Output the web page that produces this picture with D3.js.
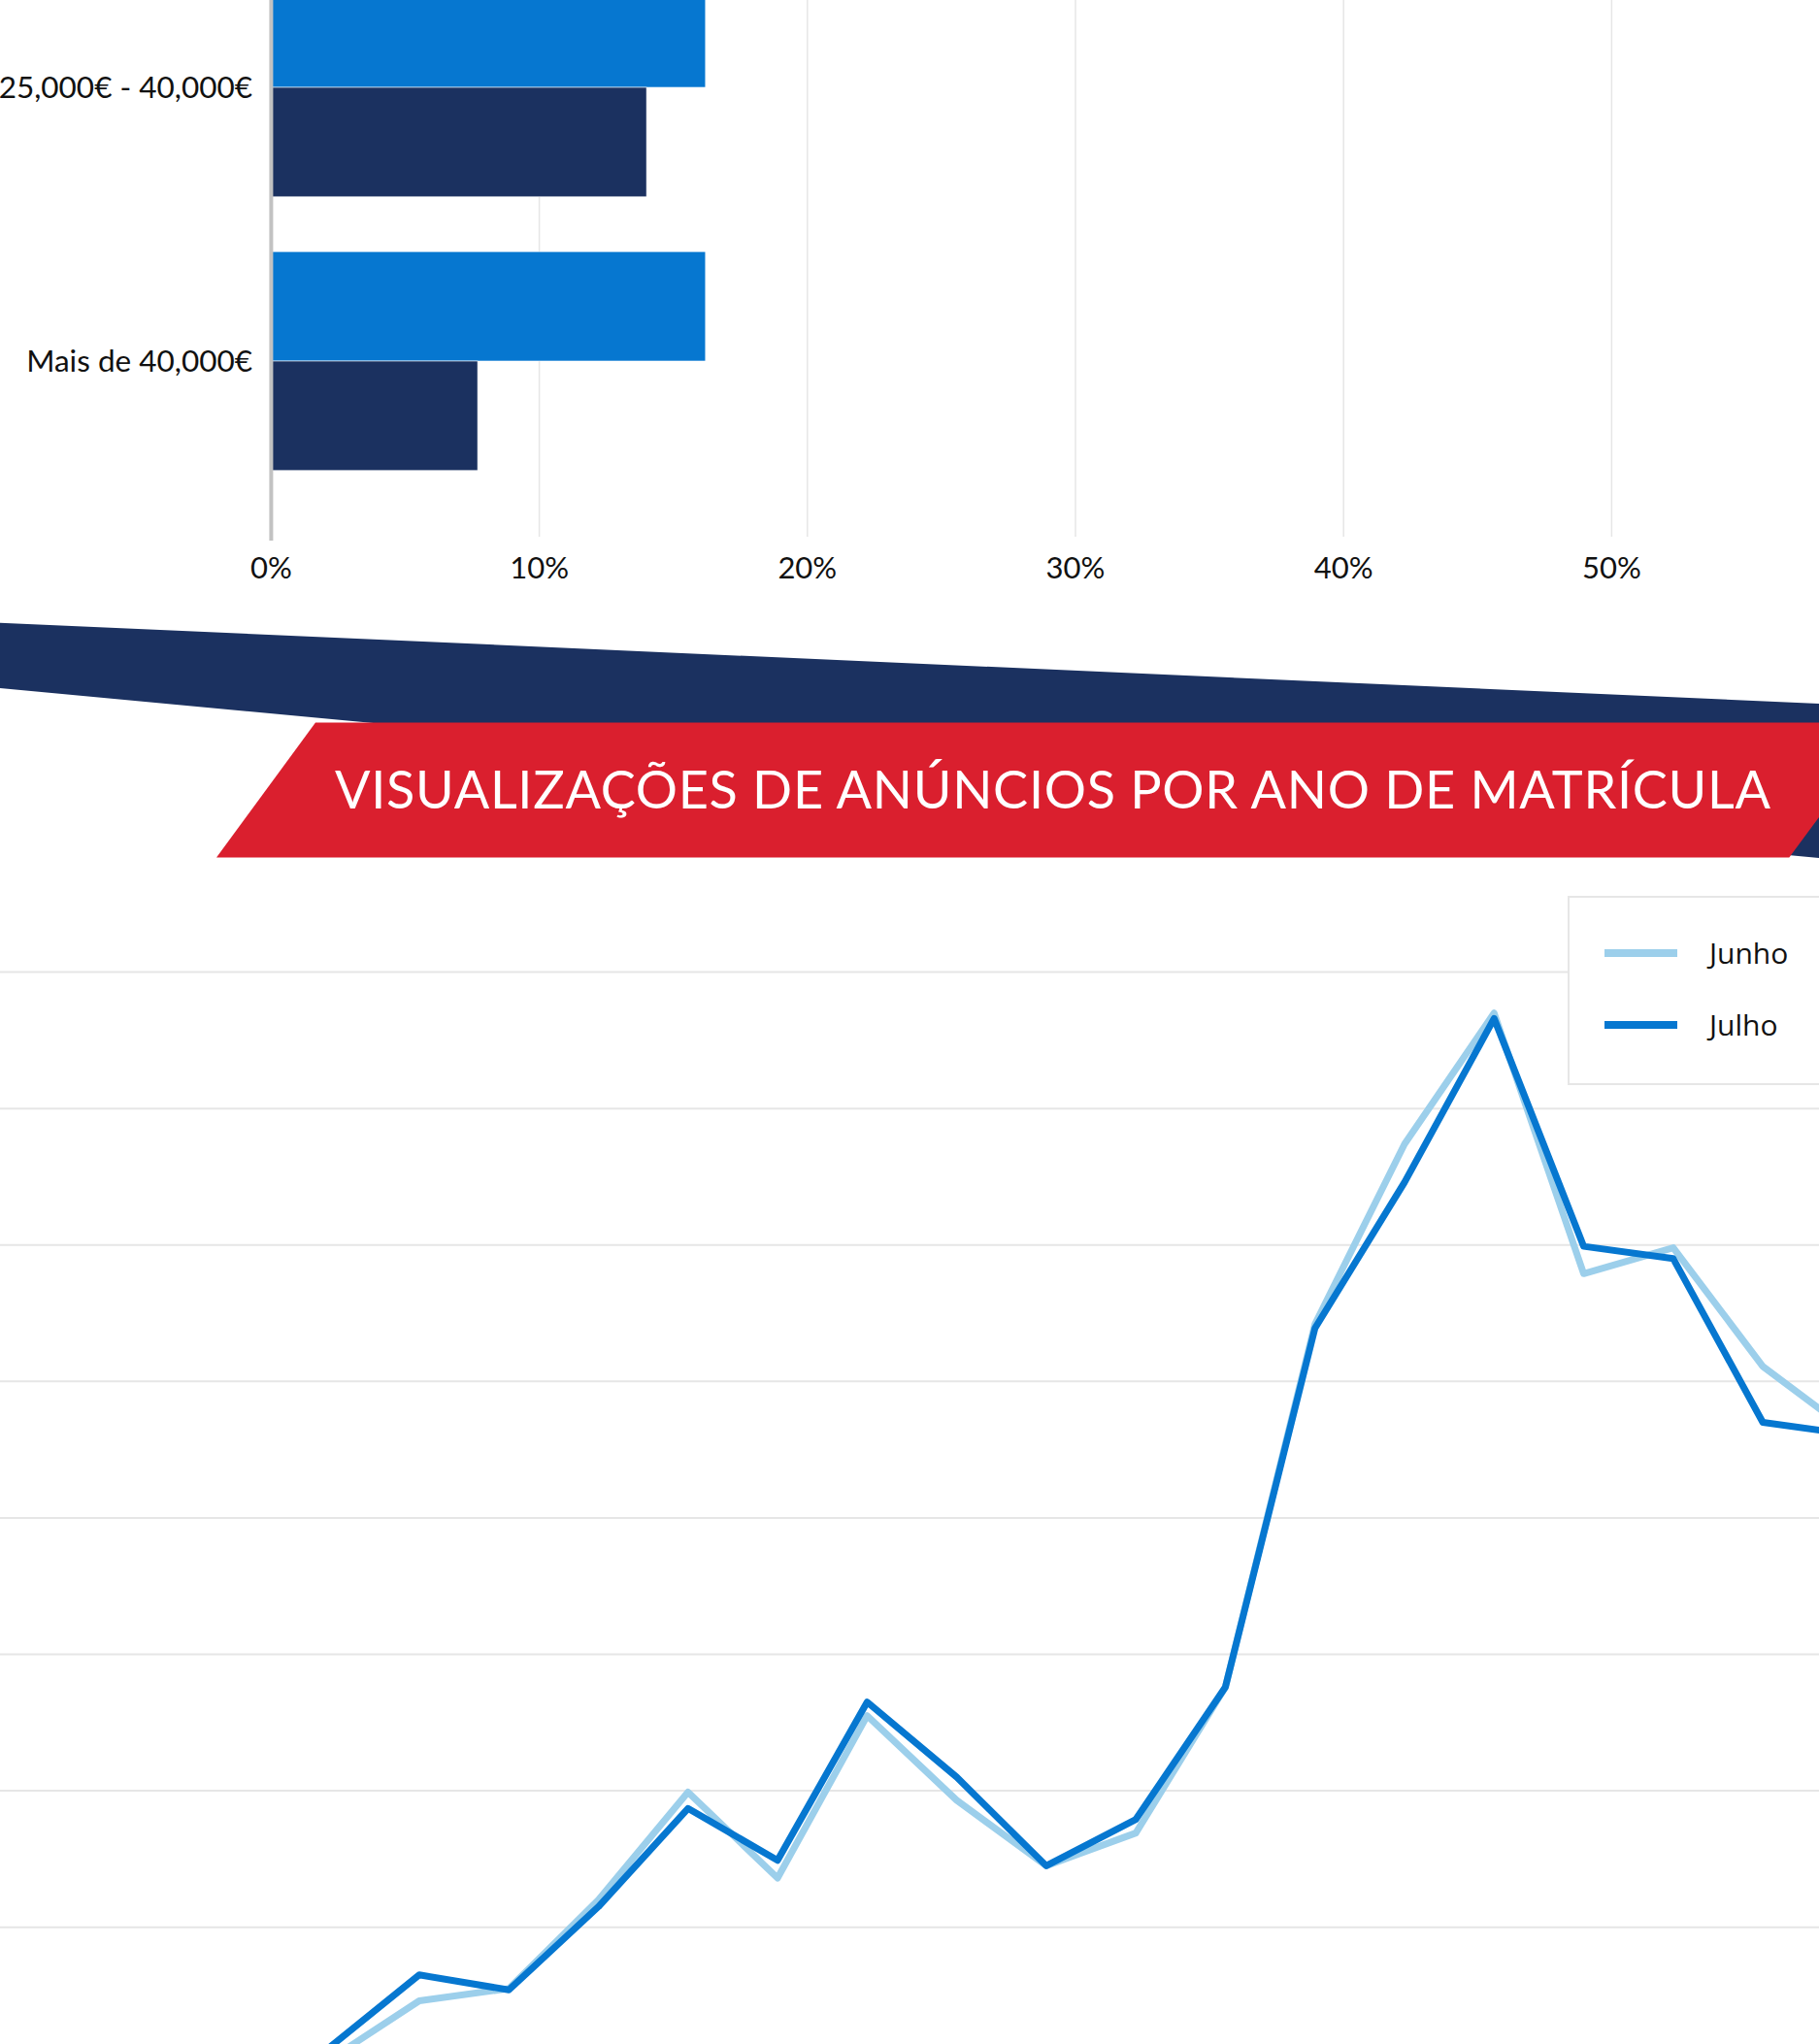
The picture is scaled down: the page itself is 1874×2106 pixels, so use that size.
<!DOCTYPE html>
<html>
<head>
<meta charset="utf-8">
<script src="https://cdn.jsdelivr.net/npm/d3@7"></script>
<style>
html, body { margin: 0; padding: 0; background: #ffffff; overflow: hidden; }
svg { display: block; }
</style>
</head>
<body>
<svg id="chart" width="1874" height="2106"></svg>
<script>
// ---------- DATA ----------
// Horizontal bar chart (top, partially visible)
const barCategories = ["25,000€ - 40,000€", "Mais de 40,000€"];
const barSeriesNames = ["Série A", "Série B"];
const barSeriesA = [16.2, 16.2];   // light blue bars (%)
const barSeriesB = [14.0, 7.7];    // navy bars (%)
const barTickValues = [0, 10, 20, 30, 40, 50];
const barTickLabels = ["0%", "10%", "20%", "30%", "40%", "50%"];

// Banner title
const titleText = "VISUALIZAÇÕES DE ANÚNCIOS POR ANO DE MATRÍCULA";

// Line chart (bottom): share of ad views by registration year
const lineYears = [1994, 1995, 1996, 1997, 1998, 1999, 2000, 2001, 2002, 2003,
                   2004, 2005, 2006, 2007, 2008, 2009, 2010, 2011, 2012];
const junhoValues = [0.00, 0.03, 0.46, 0.55, 1.20, 1.99, 1.36, 2.55, 1.93, 1.45,
                     1.69, 2.76, 5.42, 6.74, 7.70, 5.79, 5.98, 5.11, 4.62];
const julhoValues = [0.00, 0.12, 0.65, 0.54, 1.15, 1.87, 1.49, 2.65, 2.10, 1.45,
                     1.79, 2.76, 5.39, 6.46, 7.66, 5.99, 5.90, 4.70, 4.61];
const lineGridValues = [0, 1, 2, 3, 4, 5, 6, 7, 8];
const legendLabels = ["Junho", "Julho"];

// ---------- STYLE ----------
const C = {
  barLight: "#0677d0",
  barDark: "#1b3160",
  navy: "#1b3160",
  red: "#da1f2e",
  grid: "#e6e6e6",
  axis: "#c2c2c2",
  text: "#111111",
  junho: "#9ccfeb",
  julho: "#0677d0"
};

const svg = d3.select("#chart");

// ================= BAR CHART =================
const xBar = d3.scaleLinear().domain([0, 60]).range([279.4, 1936.6]);
const yBar = d3.scaleBand().domain(barCategories).range([-51, 513])
  .paddingInner(0.2).paddingOuter(0.1);
const ySub = d3.scaleBand().domain(barSeriesNames).range([0, yBar.bandwidth()]);

const barG = svg.append("g");

// vertical gridlines
barG.selectAll("line.vgrid")
  .data(barTickValues.filter(v => v > 0))
  .enter().append("line")
  .attr("x1", d => xBar(d)).attr("x2", d => xBar(d))
  .attr("y1", 0).attr("y2", 553)
  .attr("stroke", C.grid).attr("stroke-width", 1.5);

const barRows = barCategories.map((c, i) => ({
  cat: c,
  vals: [{ s: barSeriesNames[0], v: barSeriesA[i], col: C.barLight },
         { s: barSeriesNames[1], v: barSeriesB[i], col: C.barDark }]
}));

const rowG = barG.selectAll("g.row").data(barRows).enter().append("g")
  .attr("transform", d => `translate(0,${yBar(d.cat)})`);

rowG.selectAll("rect").data(d => d.vals).enter().append("rect")
  .attr("x", xBar(0))
  .attr("y", d => ySub(d.s))
  .attr("width", d => xBar(d.v) - xBar(0))
  .attr("height", ySub.bandwidth())
  .attr("fill", d => d.col)
  .attr("stroke", "#ffffff").attr("stroke-width", 0.6);

// zero axis line
barG.append("line")
  .attr("x1", xBar(0)).attr("x2", xBar(0))
  .attr("y1", 0).attr("y2", 557)
  .attr("stroke", C.axis).attr("stroke-width", 4);

// category labels
barG.selectAll("text.cat").data(barCategories).enter().append("text")
  .attr("x", 260)
  .attr("y", d => yBar(d) + yBar.bandwidth() / 2 + 11)
  .attr("text-anchor", "end")
  .attr("font-family", "Lato, sans-serif")
  .attr("font-size", 31.5)
  .attr("fill", C.text)
  .text(d => d);

// x tick labels
barG.selectAll("text.tick").data(barTickValues).enter().append("text")
  .attr("x", d => xBar(d))
  .attr("y", 596)
  .attr("text-anchor", "middle")
  .attr("font-family", "Lato, sans-serif")
  .attr("font-size", 31)
  .attr("fill", C.text)
  .text((d, i) => barTickLabels[i]);

// ================= BANNER =================
const bannerG = svg.append("g");
bannerG.append("polygon")
  .attr("points", "0,641.7 1874,725 1874,884 0,709")
  .attr("fill", C.navy);
bannerG.append("polygon")
  .attr("points", "325,744.5 1946,744.5 1843.3,883.5 223,883.5")
  .attr("fill", C.red);
bannerG.append("text")
  .attr("x", 345).attr("y", 832.7)
  .attr("font-family", "Lato, sans-serif")
  .attr("font-size", 54)
  .attr("fill", "#ffffff")
  .attr("textLength", 1479)
  .attr("lengthAdjust", "spacing")
  .text(titleText);

// ================= LINE CHART =================
const xLine = d3.scaleLinear().domain([1994, 2012]).range([247.4, 1908.4]);
const yLine = d3.scaleLinear().domain([0, 8]).range([2126.2, 1001.6]);

const lineG = svg.append("g");
lineG.selectAll("line.hgrid").data(lineGridValues).enter().append("line")
  .attr("x1", 0).attr("x2", 1874)
  .attr("y1", d => yLine(d)).attr("y2", d => yLine(d))
  .attr("stroke", C.grid).attr("stroke-width", 2);

const lineGen = d3.line()
  .x(d => xLine(d.year))
  .y(d => yLine(d.v));

const series = [
  { name: legendLabels[0], color: C.junho, vals: junhoValues },
  { name: legendLabels[1], color: C.julho, vals: julhoValues }
];

lineG.selectAll("path.series").data(series).enter().append("path")
  .attr("d", s => lineGen(lineYears.map((y, i) => ({ year: y, v: s.vals[i] }))))
  .attr("fill", "none")
  .attr("stroke", s => s.color)
  .attr("stroke-width", 7)
  .attr("stroke-linejoin", "round")
  .attr("stroke-linecap", "round");

// legend
const legG = svg.append("g");
legG.append("rect")
  .attr("x", 1616).attr("y", 924).attr("width", 300).attr("height", 193)
  .attr("fill", "#ffffff").attr("stroke", C.grid).attr("stroke-width", 2);
const legItems = legG.selectAll("g.item").data(series).enter().append("g")
  .attr("transform", (d, i) => `translate(0,${982 + i * 74})`);
legItems.append("line")
  .attr("x1", 1653).attr("x2", 1728).attr("y1", 0).attr("y2", 0)
  .attr("stroke", d => d.color).attr("stroke-width", 8);
legItems.append("text")
  .attr("x", 1761).attr("y", 11)
  .attr("font-family", "'Open Sans', sans-serif")
  .attr("font-size", 30)
  .attr("fill", C.text)
  .text(d => d.name);
</script>
</body>
</html>
